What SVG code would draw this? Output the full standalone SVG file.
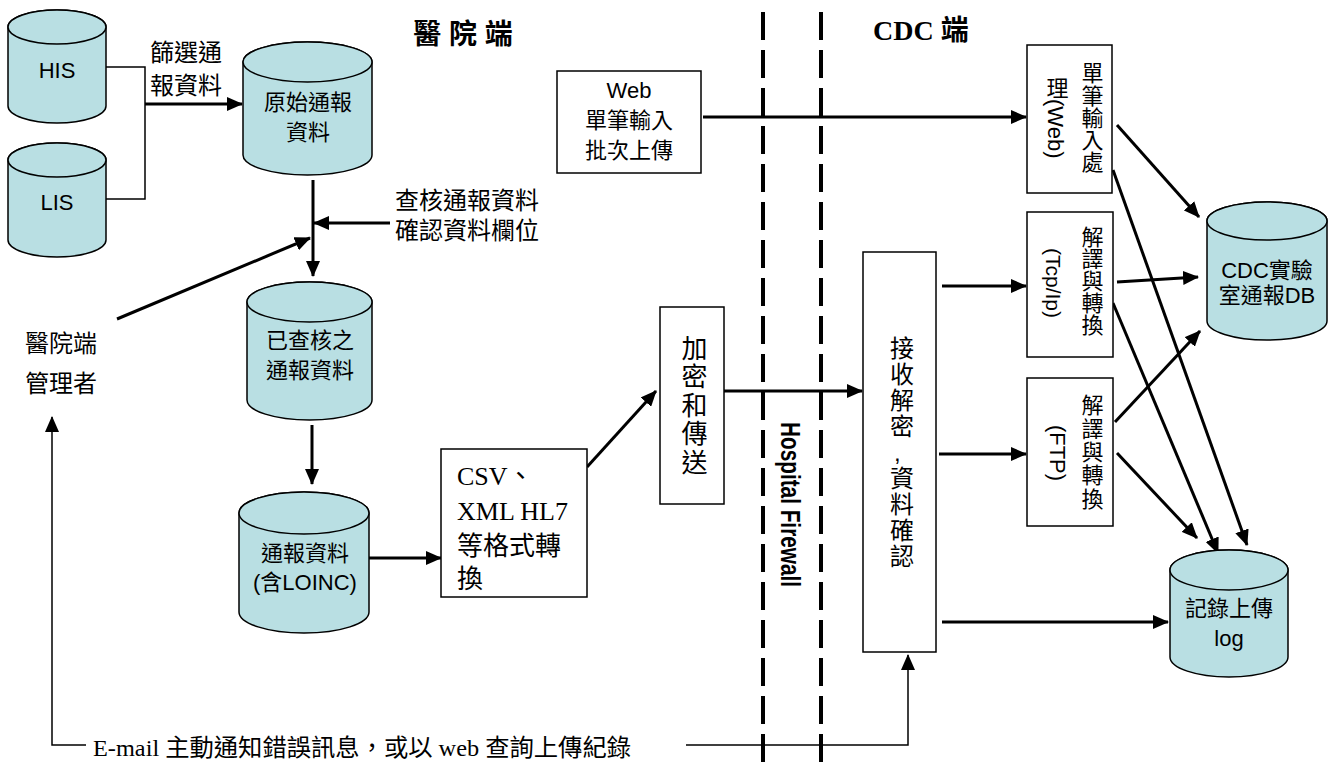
<svg xmlns="http://www.w3.org/2000/svg" width="1335" height="769" viewBox="0 0 1335 769">
<defs>
<style>
.cyl{fill:#b9dfe3;stroke:#000;stroke-width:1.5}
.box{fill:#fff;stroke:#000;stroke-width:1.5}
.t{font-family:"Liberation Sans","Noto Sans CJK TC",sans-serif;fill:#000}
.s{font-family:"Liberation Serif","Noto Sans CJK TC",serif;fill:#000}
.c22{font-size:22px}
.c24{font-size:24px}
.c26{font-size:26px}
.mid{text-anchor:middle}
.vt{writing-mode:tb}
.thick{stroke:#000;stroke-width:3;fill:none}
.thin{stroke:#000;stroke-width:1.5;fill:none}
.fw{stroke:#000;stroke-width:4;stroke-dasharray:28 10;fill:none}
</style>
<marker id="ah" markerUnits="userSpaceOnUse" markerWidth="16" markerHeight="14" refX="15" refY="7" orient="auto" viewBox="0 0 16 14"><path d="M0,0 L16,7 L0,14 z" fill="#000"/></marker>
</defs>

<g id="firewall">
<line class="fw" x1="763" y1="12" x2="763" y2="769"/>
<line class="fw" x1="821" y1="12" x2="821" y2="769"/>
<text class="t" font-weight="bold" font-size="28" transform="translate(781,422) rotate(90)" textLength="165" lengthAdjust="spacingAndGlyphs">Hospital Firewall</text>
</g>

<g id="titles">
<text class="t mid" font-weight="bold" font-size="28" x="463" y="44" xml:space="preserve">醫 院 端</text>
<text class="s" font-weight="bold" font-size="28" x="873" y="40">CDC 端</text>
</g>

<g id="connectors">
<polyline class="thin" points="106,67 145,67 145,199 106,199"/>
<line class="thick" x1="145" y1="104" x2="242" y2="104" marker-end="url(#ah)"/>
<line class="thick" x1="313" y1="180" x2="313" y2="276" marker-end="url(#ah)"/>
<line class="thick" x1="390" y1="223" x2="314" y2="223" marker-end="url(#ah)"/>
<line class="thick" x1="117" y1="319" x2="310" y2="238" marker-end="url(#ah)"/>
<line class="thick" x1="312" y1="425" x2="312" y2="484" marker-end="url(#ah)"/>
<line class="thick" x1="369" y1="558" x2="441" y2="558" marker-end="url(#ah)"/>
<line class="thick" x1="587" y1="467" x2="656" y2="391" marker-end="url(#ah)"/>
<line class="thick" x1="724" y1="391" x2="862" y2="391" marker-end="url(#ah)"/>
<line class="thick" x1="703" y1="117" x2="1026" y2="117" marker-end="url(#ah)"/>
<line class="thick" x1="942" y1="286" x2="1026" y2="286" marker-end="url(#ah)"/>
<line class="thick" x1="939" y1="454" x2="1026" y2="454" marker-end="url(#ah)"/>
<line class="thick" x1="942" y1="622" x2="1168" y2="622" marker-end="url(#ah)"/>
<line class="thick" x1="1117" y1="125" x2="1199" y2="217" marker-end="url(#ah)"/>
<line class="thick" x1="1117" y1="282" x2="1198" y2="277" marker-end="url(#ah)"/>
<line class="thick" x1="1115" y1="422" x2="1200" y2="331" marker-end="url(#ah)"/>
<line class="thick" x1="1113" y1="170" x2="1247" y2="545" marker-end="url(#ah)"/>
<line class="thick" x1="1113" y1="303" x2="1218" y2="553" marker-end="url(#ah)"/>
<line class="thick" x1="1117" y1="453" x2="1197" y2="538" marker-end="url(#ah)"/>
<polyline class="thin" points="86,745 52,745 52,417" marker-end="url(#ah)"/>
<polyline class="thin" points="686,745 908,745 908,655" marker-end="url(#ah)"/>
</g>

<g id="labels">
<text class="t c24" x="150" y="61">篩選通</text>
<text class="t c24" x="150" y="94">報資料</text>
<text class="t c24" x="395" y="209">查核通報資料</text>
<text class="t c24" x="395" y="239">確認資料欄位</text>
<text class="t c24" x="25" y="352">醫院端</text>
<text class="t c24" x="25" y="392">管理者</text>
<text class="s" font-size="24" x="93" y="756" textLength="538" lengthAdjust="spacingAndGlyphs">E-mail 主動通知錯誤訊息，或以 web 查詢上傳紀錄</text>
</g>

<g id="his">
<path class="cyl" d="M8,27 L8,106 A49,17 0 0 0 106,106 L106,27 A49,17 0 0 0 8,27 Z"/>
<ellipse class="cyl" cx="57" cy="27" rx="49" ry="17"/>
<text class="t c22 mid" x="57" y="78">HIS</text>
</g>

<g id="lis">
<path class="cyl" d="M8,160 L8,240 A49,17 0 0 0 106,240 L106,160 A49,17 0 0 0 8,160 Z"/>
<ellipse class="cyl" cx="57" cy="160" rx="49" ry="17"/>
<text class="t c22 mid" x="57" y="210">LIS</text>
</g>

<g id="raw">
<path class="cyl" d="M243,62 L243,155 A64.5,20 0 0 0 372,155 L372,62 A64.5,20 0 0 0 243,62 Z"/>
<ellipse class="cyl" cx="307.5" cy="62" rx="64.5" ry="20"/>
<text class="t c22 mid" x="308" y="110">原始通報</text>
<text class="t c22 mid" x="308" y="140">資料</text>
</g>

<g id="checked">
<path class="cyl" d="M247,302 L247,400 A62.5,20 0 0 0 372,400 L372,302 A62.5,20 0 0 0 247,302 Z"/>
<ellipse class="cyl" cx="309.5" cy="302" rx="62.5" ry="20"/>
<text class="t c22 mid" x="310" y="348">已查核之</text>
<text class="t c22 mid" x="310" y="378">通報資料</text>
</g>

<g id="loinc">
<path class="cyl" d="M239,513 L239,612 A65,21 0 0 0 369,612 L369,513 A65,21 0 0 0 239,513 Z"/>
<ellipse class="cyl" cx="304" cy="513" rx="65" ry="21"/>
<text class="t c22 mid" x="305" y="561">通報資料</text>
<text class="t c22 mid" x="305" y="590">(含LOINC)</text>
</g>

<g id="csv">
<rect class="box" x="441" y="449" width="146" height="148"/>
<text class="s c26" x="457" y="485">CSV、</text>
<text class="s c26" x="457" y="520">XML HL7</text>
<text class="t c26" x="457" y="555">等格式轉</text>
<text class="t c26" x="457" y="588">換</text>
</g>

<g id="encrypt">
<rect class="box" x="660" y="307" width="64" height="197"/>
<text class="t c26 vt" x="692" y="335" letter-spacing="2.5">加密和傳送</text>
</g>

<g id="web">
<rect class="box" x="557" y="71" width="144" height="102"/>
<text class="t c22 mid" x="629" y="98">Web</text>
<text class="t c22 mid" x="629" y="128">單筆輸入</text>
<text class="t c22 mid" x="629" y="158">批次上傳</text>
</g>

<g id="receive">
<rect class="box" x="863" y="252" width="73" height="400"/>
<text class="t c24 vt" x="900" y="336" letter-spacing="2">接收解密　資料確認</text>
<text class="t" font-size="24" x="894" y="461">,</text>
</g>

<g id="webproc">
<rect class="box" x="1027" y="45" width="85" height="148"/>
<text class="t c22 vt" x="1090" y="62" letter-spacing="0.2">單筆輸入處</text>
<text class="t c22 vt" x="1055" y="77">理(Web)</text>
</g>

<g id="tcpproc">
<rect class="box" x="1027" y="212" width="86" height="145"/>
<text class="t c22 vt" x="1090" y="226">解譯與轉換</text>
<text class="t mid" font-size="21" transform="translate(1046,283) rotate(90)">(Tcp/Ip)</text>
</g>

<g id="ftpproc">
<rect class="box" x="1027" y="378" width="86" height="148"/>
<text class="t c22 vt" x="1090" y="394" letter-spacing="1.3">解譯與轉換</text>
<text class="t c22 mid" transform="translate(1050,453) rotate(90)">(FTP)</text>
</g>

<g id="cdcdb">
<path class="cyl" d="M1207,221 L1207,321 A60,19 0 0 0 1327,321 L1327,221 A60,19 0 0 0 1207,221 Z"/>
<ellipse class="cyl" cx="1267" cy="221" rx="60" ry="19"/>
<text class="t c22 mid" x="1267" y="278">CDC實驗</text>
<text class="t c22 mid" x="1267" y="303">室通報DB</text>
</g>

<g id="log">
<path class="cyl" d="M1170,570 L1170,657 A59,20 0 0 0 1288,657 L1288,570 A59,20 0 0 0 1170,570 Z"/>
<ellipse class="cyl" cx="1229" cy="570" rx="59" ry="20"/>
<text class="t c22 mid" x="1229" y="616">記錄上傳</text>
<text class="t c22 mid" x="1229" y="646">log</text>
</g>
</svg>
